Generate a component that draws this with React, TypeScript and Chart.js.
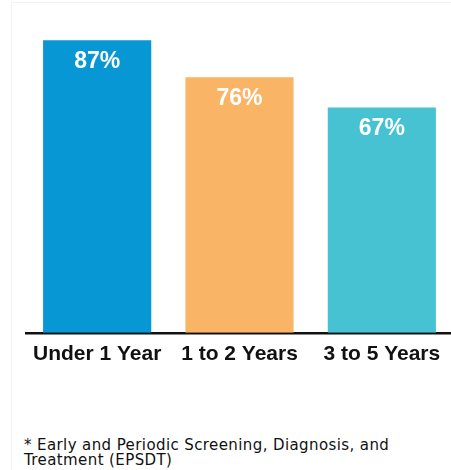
import React, { useEffect, useRef } from "react";
import { Chart, registerables } from "chart.js";

Chart.register(...registerables);

const categories = ["Under 1 Year", "1 to 2 Years", "3 to 5 Years"];
const values = [87, 76, 67];
const barColors = ["#0897d5", "#fab466", "#46c2d2"];
const valueLabels = ["87%", "76%", "67%"];
const footnote = "* Early and Periodic Screening, Diagnosis, and Treatment (EPSDT)";

const valueLabelPlugin = {
  id: "valueLabels",
  afterDatasetsDraw(chart: any) {
    const ctx = chart.ctx;
    const meta = chart.getDatasetMeta(0);
    ctx.save();
    ctx.fillStyle = "#ffffff";
    ctx.font = "bold 23px 'Liberation Sans', Arial, sans-serif";
    ctx.textAlign = "center";
    ctx.textBaseline = "middle";
    meta.data.forEach((bar: any, i: number) => {
      ctx.fillText(valueLabels[i], bar.x, bar.y + 21);
    });
    ctx.restore();
  },
};

export default function App() {
  const ref = useRef<HTMLCanvasElement>(null);
  useEffect(() => {
    if (!ref.current) return;
    const chart = new Chart(ref.current, {
      type: "bar",
      data: {
        labels: categories,
        datasets: [
          {
            data: values,
            backgroundColor: barColors,
            borderWidth: 0,
            categoryPercentage: 1,
            barPercentage: 0.76,
          },
        ],
      },
      options: {
        animation: false,
        responsive: false,
        maintainAspectRatio: false,
        layout: { padding: { left: 26, right: 0, top: 0, bottom: 12 } },
        plugins: { legend: { display: false }, tooltip: { enabled: false }, title: { display: false } },
        scales: {
          y: { display: false, min: 0, max: 99 },
          x: {
            grid: { display: false, drawTicks: false },
            border: { display: true, color: "#111111", width: 2.5 },
            ticks: {
              color: "#111111",
              padding: 9,
              maxRotation: 0,
              minRotation: 0,
              autoSkip: false,
              font: { family: "'Liberation Sans', Arial, sans-serif", size: 21, weight: "bold" },
            },
          },
        },
      },
      plugins: [valueLabelPlugin],
    });
    return () => chart.destroy();
  }, []);
  return (
    <div style={{ position: "absolute", left: 0, top: 0, width: 451, height: 470, overflow: "hidden", background: "#fff" }}>
      <div style={{ position: "absolute", left: 11, top: 2, width: 460, height: 480, borderLeft: "1px solid #f2f2f2", borderTop: "1px solid #f2f2f2" }} />
      <canvas ref={ref} width={453} height={388} style={{ position: "absolute", left: 0, top: 0, width: 453, height: 388 }} />
      <div
        style={{
          position: "absolute",
          left: 24,
          top: 438,
          width: 410,
          fontFamily: "'DejaVu Sans', sans-serif",
          fontSize: 15,
          lineHeight: "15px",
          letterSpacing: "0.4px",
          color: "#111",
        }}
      >
        {footnote}
      </div>
    </div>
  );
}
